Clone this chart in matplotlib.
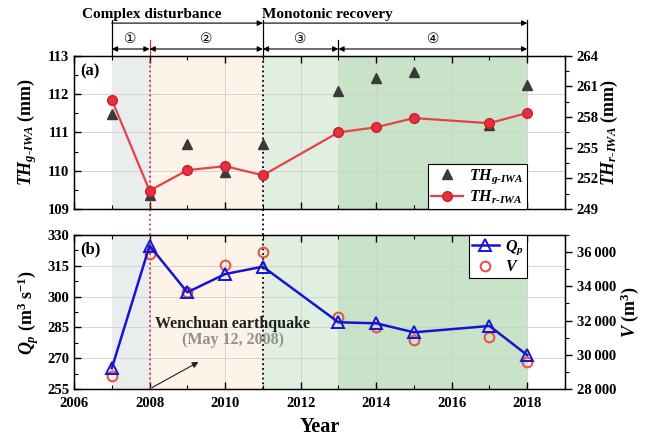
import numpy as np
import matplotlib
matplotlib.use("Agg")
import matplotlib.pyplot as plt
from matplotlib.lines import Line2D
from matplotlib.ticker import MultipleLocator, FuncFormatter

plt.rcParams['font.family'] = ['Liberation Serif', 'DejaVu Serif', 'Noto Sans CJK SC']
plt.rcParams['font.weight'] = 'bold'
plt.rcParams['axes.labelweight'] = 'bold'
plt.rcParams['mathtext.fontset'] = 'custom'
plt.rcParams['mathtext.it'] = 'Liberation Serif:italic:bold'
plt.rcParams['mathtext.rm'] = 'Liberation Serif:bold'
plt.rcParams['mathtext.bf'] = 'Liberation Serif:bold'

# survey years (no survey in 2012 and 2016)
years = [2007, 2008, 2009, 2010, 2011, 2013, 2014, 2015, 2017, 2018]
th_g = [111.48, 109.36, 110.69, 109.97, 110.69, 112.09, 112.41, 112.58, 111.19, 112.23]
th_r = [259.7, 250.8, 252.8, 253.2, 252.3, 256.5, 257.0, 257.9, 257.4, 258.4]
q_p = [265.1, 324.8, 302.1, 311.0, 314.6, 287.5, 287.0, 282.6, 285.7, 271.5]
vol = [28760, 35880, 33690, 35250, 36000, 32230, 31610, 30870, 31060, 29600]

# stage boundaries
stages = [2007, 2008, 2011, 2013, 2018]
stage_colors = ['#e9edee', '#fdf3e8', '#e0efe0', '#c8e3c8']
stage_names = ['\u2460', '\u2461', '\u2462', '\u2463']
quake_year = 2008

fig = plt.figure(figsize=(6.46, 4.41), dpi=100)
ax1 = fig.add_axes([0.1146, 0.526, 0.76, 0.3476])
ax2 = fig.add_axes([0.1146, 0.118, 0.76, 0.349])

for ax in (ax1, ax2):
    for i in range(4):
        ax.axvspan(stages[i], stages[i + 1], color=stage_colors[i], lw=0, zorder=0)
    ax.set_xlim(2006, 2019)
    ax.xaxis.set_major_locator(MultipleLocator(2))
    ax.xaxis.set_minor_locator(MultipleLocator(1))
    ax.tick_params(axis='x', which='both', direction='in', top=True, labelsize=10.5, pad=6)
    ax.tick_params(axis='x', which='major', length=5, width=1)
    ax.tick_params(axis='x', which='minor', length=3, width=0.8)
    ax.tick_params(axis='y', which='major', direction='in', length=5, width=1, labelsize=10.5)
    ax.tick_params(axis='y', which='minor', direction='in', length=3, width=0.8)
    ax.grid(True, which='major', color='#cfcfcf', lw=0.6)
    ax.set_axisbelow(True)
    for s in ax.spines.values():
        s.set_linewidth(1.0)

# top panel
ax1.set_ylim(109, 113)
ax1.yaxis.set_major_locator(MultipleLocator(1))
ax1.yaxis.set_minor_locator(MultipleLocator(0.5))
ax1.tick_params(axis='x', labelbottom=False)
ax1.set_ylabel(r'$TH_{g\text{-}IWA}$ (mm)', fontsize=13, labelpad=6)
ax1.plot(years, th_g, ls='none', marker='^', ms=7, color='#3a3a3a', zorder=3)
ax1.axvline(quake_year, ymin=-0.17, ymax=1, color='#e0303a', ls=':', lw=1.3, clip_on=False, zorder=2)
ax1.axvline(2011, ymin=-0.17, ymax=1, color='black', ls=':', lw=1.3, clip_on=False, zorder=2)
ax1.text(0.012, 0.95, '(a)', transform=ax1.transAxes, fontsize=12, va='top')

ax1r = ax1.twinx()
ax1r.set_ylim(249, 264)
ax1r.yaxis.set_major_locator(MultipleLocator(3))
ax1r.yaxis.set_minor_locator(MultipleLocator(1.5))
ax1r.tick_params(axis='y', which='major', direction='out', length=5, width=1, labelsize=10.5)
ax1r.tick_params(axis='y', which='minor', direction='out', length=3, width=0.8)
ax1r.plot(years, th_r, color='#e8404a', lw=1.6, marker='o', ms=7,
          mfc='#e8303c', mec='#c82030', zorder=3)
ax1r.set_ylabel(r'$TH_{r\text{-}IWA}$ (mm)', fontsize=13, labelpad=0)

h1 = [Line2D([], [], ls='none', marker='^', ms=7, color='#3a3a3a'),
      Line2D([], [], color='#e8404a', lw=1.6, marker='o', ms=7, mfc='#e8303c', mec='#c82030')]
leg1 = ax1r.legend(h1, [r'$TH_{g\text{-}IWA}$', r'$TH_{r\text{-}IWA}$'], loc='lower right',
                   bbox_to_anchor=(12 / 13, 0.0), borderaxespad=0, fontsize=11.5, frameon=True,
                   fancybox=False, edgecolor='black', framealpha=1, borderpad=0.2,
                   handlelength=2.0, handletextpad=0.4, labelspacing=0.15)
leg1.get_frame().set_linewidth(0.8)

# bottom panel
ax2.set_ylim(255, 330)
ax2.yaxis.set_major_locator(MultipleLocator(15))
ax2.yaxis.set_minor_locator(MultipleLocator(7.5))
ax2.set_ylabel(r'$Q_p$ (m$^3$ s$^{-1}$)', fontsize=13, labelpad=4)
ax2.set_xlabel('Year', fontsize=14.5, labelpad=5)
ax2.axvline(quake_year, color='#e0303a', ls=':', lw=1.3, zorder=2)
ax2.axvline(2011, color='black', ls=':', lw=1.3, zorder=2)
ax2.text(0.012, 0.96, '(b)', transform=ax2.transAxes, fontsize=12, va='top')
ax2.text(2010.2, 286.6, 'Wenchuan earthquake', ha='center', va='center', fontsize=11.5, color='#202020')
ax2.text(2010.2, 278.9, '(May 12, 2008)', ha='center', va='center', fontsize=11.5, color='#909090')
ax2.annotate('', xy=(2009.36, 268.8), xytext=(quake_year, 255),
             arrowprops=dict(arrowstyle='-|>', color='#202020', lw=0.8, mutation_scale=9))

ax2r = ax2.twinx()
ax2r.set_ylim(28000, 37000)
ax2r.yaxis.set_major_locator(MultipleLocator(2000))
ax2r.yaxis.set_minor_locator(MultipleLocator(1000))
ax2r.yaxis.set_major_formatter(FuncFormatter(lambda v, p: f'{v:,.0f}'.replace(',', '\u2009')))
ax2r.tick_params(axis='y', which='major', direction='out', length=5, width=1, labelsize=10.5)
ax2r.tick_params(axis='y', which='minor', direction='out', length=3, width=0.8)
ax2r.set_ylabel(r'$V$ (m$^3$)', fontsize=13, labelpad=2)
ax2r.plot(years, vol, ls='none', marker='o', ms=7, mfc='none', mec='#e85548', mew=1.5, zorder=3)

# Q_p on a third layer so that it sits over the V markers
ax2q = ax2.twinx()
ax2q.set_ylim(ax2.get_ylim())
ax2q.axis('off')
ax2q.plot(years, q_p, color='#1515d0', lw=1.8, marker='^', ms=8, mfc='none',
          mec='#1515d0', mew=1.4, zorder=4)

h2 = [Line2D([], [], color='#1515d0', lw=1.8, marker='^', ms=8, mfc='none', mec='#1515d0', mew=1.4),
      Line2D([], [], ls='none', marker='o', ms=7, mfc='none', mec='#e85548', mew=1.5)]
leg2 = ax2q.legend(h2, [r'$Q_p$', r'$V$'], loc='upper right', bbox_to_anchor=(12 / 13, 1.0),
                   borderaxespad=0, fontsize=11.5, frameon=True, fancybox=False, edgecolor='black',
                   framealpha=1, borderpad=0.2, handlelength=1.7, handletextpad=0.4,
                   labelspacing=0.15)
leg2.get_frame().set_linewidth(0.8)

# stage brackets above the top panel
tr = ax1.get_xaxis_transform()
for x in (2007, 2011, 2018):
    ax1.plot([x, x], [1.0, 1.235], transform=tr, color='black', lw=0.9, clip_on=False)
ax1.plot([2008, 2008], [1.0, 1.10], transform=tr, color='#e0303a', lw=0.9, clip_on=False)
ax1.plot([2013, 2013], [1.0, 1.10], transform=tr, color='black', lw=0.9, clip_on=False)
for a, b in ((2007, 2011), (2011, 2018)):
    ax1.annotate('', xy=(b, 1.213), xytext=(a, 1.213), xycoords=tr, textcoords=tr,
                 arrowprops=dict(arrowstyle='-|>', color='black', lw=0.8, mutation_scale=8,
                                 shrinkA=0, shrinkB=0))
for i in range(4):
    ax1.annotate('', xy=(stages[i + 1], 1.044), xytext=(stages[i], 1.044), xycoords=tr, textcoords=tr,
                 arrowprops=dict(arrowstyle='<|-|>', color='black', lw=0.8, mutation_scale=8,
                                 shrinkA=0, shrinkB=0))
    ax1.text((stages[i] + stages[i + 1]) / 2, 1.11, stage_names[i], transform=tr, ha='center',
             va='center', fontsize=10, fontweight='normal',
             family=['DejaVu Sans', 'Noto Sans CJK SC'])
ax1.text(2008.05, 1.27, 'Complex disturbance', transform=tr, ha='center', va='center', fontsize=11)
ax1.text(2012.7, 1.27, 'Monotonic recovery', transform=tr, ha='center', va='center', fontsize=11)

fig.savefig('out.png', dpi=100)
